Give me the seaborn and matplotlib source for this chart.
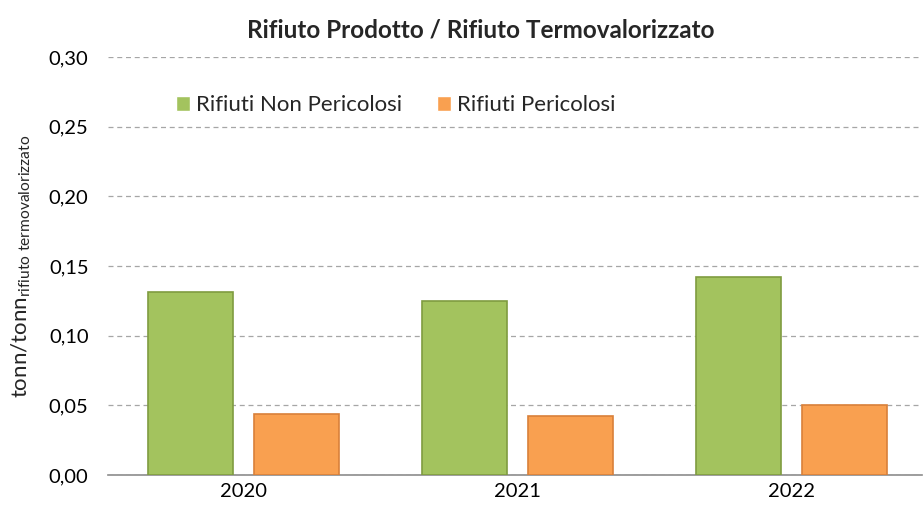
import pandas as pd
import matplotlib
matplotlib.use("Agg")
import matplotlib.pyplot as plt
from matplotlib.ticker import FuncFormatter, MultipleLocator
import seaborn as sns

years = ["2020", "2021", "2022"]
non_pericolosi = [0.131, 0.125, 0.142]
pericolosi = [0.044, 0.042, 0.050]
series_names = ["Rifiuti Non Pericolosi", "Rifiuti Pericolosi"]

df = pd.DataFrame({
    "anno": years * 2,
    "valore": non_pericolosi + pericolosi,
    "tipo": [series_names[0]] * 3 + [series_names[1]] * 3,
})

sns.set_style("white")
plt.rcParams["font.family"] = ["Lato", "DejaVu Sans"]
plt.rcParams["mathtext.fontset"] = "custom"
plt.rcParams["mathtext.rm"] = "Lato"
plt.rcParams["mathtext.it"] = "Lato"

W, H = 923, 515
fig = plt.figure(figsize=(W / 100, H / 100), dpi=100)
ax = fig.add_axes([108 / W, 40 / H, 814 / W, 418 / H])

palette = {series_names[0]: "#A3C35E", series_names[1]: "#F9A050"}
edges = {series_names[0]: "#7F9C40", series_names[1]: "#D9803A"}

sns.barplot(data=df, x="anno", y="valore", hue="tipo", palette=palette,
            width=0.77, gap=0.195, ax=ax, zorder=3, saturation=1)

for cont, name in zip(ax.containers, series_names):
    for bar in cont:
        bar.set_edgecolor(edges[name])
        bar.set_linewidth(1.2)

ax.set_ylim(0, 0.30)
ax.set_xlim(-0.494, 2.477)
ax.yaxis.set_major_locator(MultipleLocator(0.05))
ax.yaxis.set_major_formatter(FuncFormatter(lambda v, p: f"{v:.2f}".replace(".", ",")))
ax.grid(axis="y", linestyle=(0, (4, 3)), color="#A6A6A6", linewidth=0.9, zorder=0)
ax.set_axisbelow(True)

for s in ["left", "right", "top"]:
    ax.spines[s].set_visible(False)
ax.spines["bottom"].set_color("#8C8C8C")
ax.spines["bottom"].set_linewidth(1.2)
ax.tick_params(axis="both", length=0, labelsize=14.5, colors="#000000")
ax.tick_params(axis="y", pad=14)
ax.tick_params(axis="x", pad=6)

ax.set_xlabel("")
ax.set_ylabel(r"tonn/tonn$_{\mathrm{rifiuto\ termovalorizzato}}$", fontsize=16)
ax.yaxis.set_label_coords(-0.092, 0.5)

ax.set_title("Rifiuto Prodotto / Rifiuto Termovalorizzato", fontsize=17.5,
             fontweight="bold", x=(481 - 108) / 814, pad=14)

ax.legend(loc="center left", bbox_to_anchor=(68 / 814, 0.885), ncol=2, frameon=False,
          fontsize=16, handlelength=0.63, handleheight=0.63, handletextpad=0.25,
          columnspacing=1.6, borderpad=0, borderaxespad=0)

fig.savefig("out.png", dpi=100)
